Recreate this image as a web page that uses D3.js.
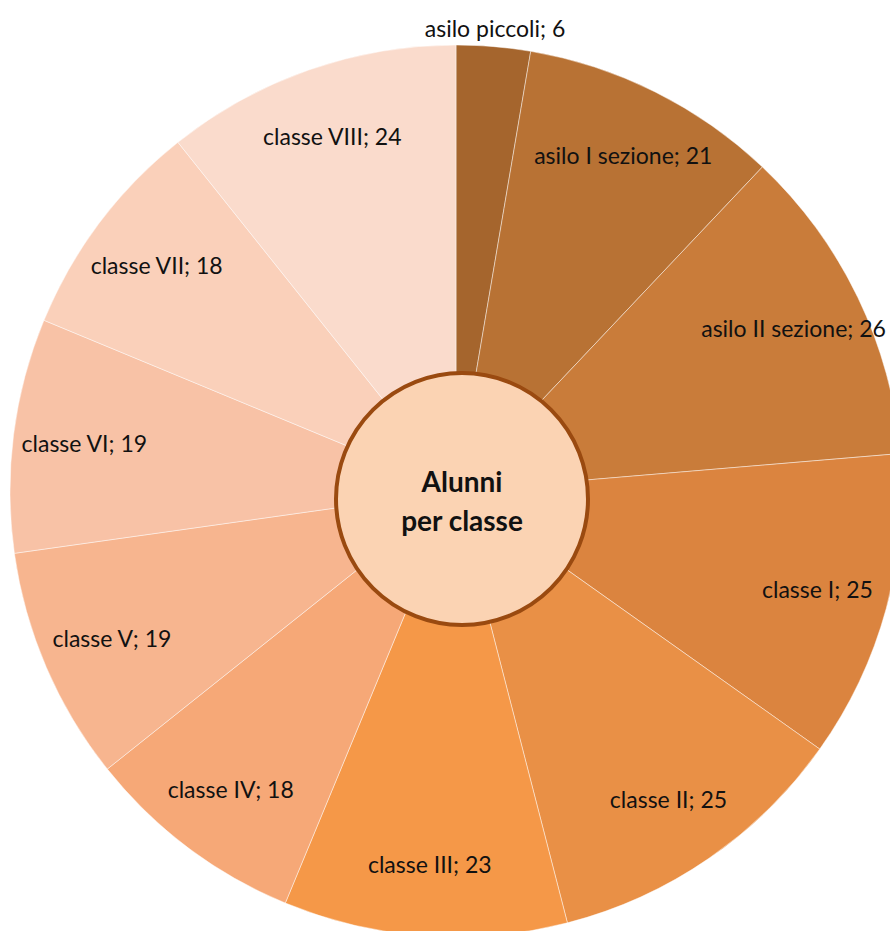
<!DOCTYPE html>
<html>
<head>
<meta charset="utf-8">
<script src="https://cdn.jsdelivr.net/npm/d3@7/dist/d3.min.js"></script>
<style>
  html, body { margin: 0; padding: 0; background: #fff; }
  svg { display: block; }
  .lbl { font-family: Lato, "Open Sans", sans-serif; font-size: 23px; fill: #111; }
  .title { font-family: Lato, "Open Sans", sans-serif; font-size: 28px; font-weight: bold; fill: #111; }
</style>
</head>
<body>
<div id="chart"></div>
<script>
// categories and values
const classi = ['asilo piccoli', 'asilo I sezione', 'asilo II sezione', 'classe I', 'classe II',
  'classe III', 'classe IV', 'classe V', 'classe VI', 'classe VII', 'classe VIII'];
const alunni = [6, 21, 26, 25, 25, 23, 18, 19, 19, 18, 24];
const colori = ['#a5652d', '#b87234', '#c97c3a', '#db843f', '#e99046', '#f59848',
  '#f6a877', '#f7b58f', '#f8c2a6', '#fad0ba', '#fadbcc'];
const titolo = ['Alunni', 'per classe'];

const width = 890, height = 931;
const cx = 456, cy = 491, radius = 446;

const svg = d3.select('#chart').append('svg')
  .attr('width', width)
  .attr('height', height);

const data = classi.map((c, i) => ({ name: c, value: alunni[i], color: colori[i] }));

const pie = d3.pie().value(d => d.value).sort(null);
const arcs = pie(data);

const arc = d3.arc().innerRadius(0).outerRadius(radius);
const labelArc = d3.arc().innerRadius(radius * 0.84).outerRadius(radius * 0.84);
const outerArc = d3.arc().innerRadius(radius + 18).outerRadius(radius + 18);

const g = svg.append('g').attr('transform', 'translate(' + cx + ',' + cy + ')');

g.selectAll('path.slice').data(arcs)
  .enter().append('path')
  .attr('class', 'slice')
  .attr('d', arc)
  .attr('fill', d => d.data.color)
  .attr('stroke', '#fff')
  .attr('stroke-opacity', 0.6)
  .attr('stroke-width', 0.75);

// labels: small slices go outside
g.selectAll('text.lbl').data(arcs)
  .enter().append('text')
  .attr('class', 'lbl')
  .attr('transform', d => {
    const small = (d.endAngle - d.startAngle) < 0.3;
    const p = small ? outerArc.centroid(d) : labelArc.centroid(d);
    return 'translate(' + p[0] + ',' + p[1] + ')';
  })
  .attr('text-anchor', 'middle')
  .attr('dy', '0.35em')
  .text(d => d.data.name + '; ' + d.data.value);

// centre disc (sits a little off the pie centre, as in the original)
const disc = svg.append('g').attr('transform', 'translate(' + (cx + 6) + ',' + (cy + 8) + ')');

disc.append('circle')
  .attr('r', 126)
  .attr('fill', '#fbd3b3')
  .attr('stroke', '#9a4a10')
  .attr('stroke-width', 4);

disc.selectAll('text.title').data(titolo)
  .enter().append('text')
  .attr('class', 'title')
  .attr('text-anchor', 'middle')
  .attr('y', (d, i) => -17 + i * 39)
  .attr('dy', '0.35em')
  .text(d => d);
</script>
</body>
</html>
